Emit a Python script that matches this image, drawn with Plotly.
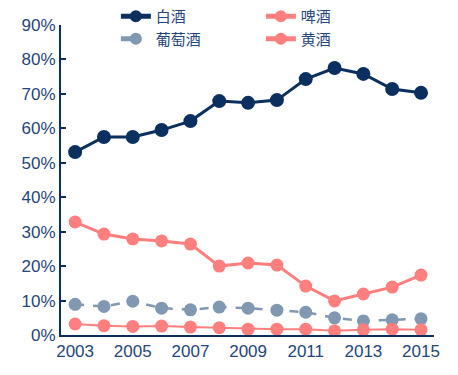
import plotly.graph_objects as go

years = list(range(2003, 2016))
baijiu = [53.1, 57.5, 57.5, 59.5, 62.1, 67.9, 67.4, 68.2, 74.3, 77.5, 75.8, 71.4, 70.3]
beer = [32.8, 29.3, 27.9, 27.3, 26.4, 20.0, 20.9, 20.3, 14.2, 9.9, 11.9, 13.9, 17.4]
wine = [8.9, 8.3, 9.8, 7.8, 7.3, 8.1, 7.8, 7.2, 6.6, 5.0, 4.1, 4.4, 4.7]
huangjiu = [3.2, 2.7, 2.5, 2.6, 2.3, 2.1, 1.7, 1.7, 1.7, 1.2, 1.5, 1.7, 1.5]

navy = "#0B2F5E"
salmon = "#FF7F7F"
grey = "#8098B2"
txt = "#24467A"

def pct(v):
    return [x / 100 for x in v]

fig = go.Figure()
fig.add_trace(go.Scatter(x=years, y=pct(baijiu), name="白酒", mode="lines+markers",
                         line=dict(color=navy, width=3), marker=dict(size=14, color=navy)))
fig.add_trace(go.Scatter(x=years, y=pct(beer), name="啤酒", mode="lines+markers",
                         line=dict(color=salmon, width=3), marker=dict(size=13, color=salmon)))
fig.add_trace(go.Scatter(x=years, y=pct(wine), name="葡萄酒", mode="lines+markers",
                         line=dict(color=grey, width=2.5, dash="dash"), marker=dict(size=13, color=grey)))
fig.add_trace(go.Scatter(x=years, y=pct(huangjiu), name="黄酒", mode="lines+markers",
                         line=dict(color=salmon, width=2), marker=dict(size=13, color=salmon)))

fig.update_layout(
    width=458, height=375,
    margin=dict(l=61, r=24, t=25, b=40, autoexpand=False),
    paper_bgcolor="white", plot_bgcolor="white",
    font=dict(family="Liberation Sans, Arial, Noto Sans CJK SC", size=17, color=txt),
    showlegend=True,
    legend=dict(orientation="h", xref="container", yref="container",
                x=0.253, y=1.0, xanchor="left", yanchor="top",
                entrywidth=100, tracegroupgap=0, bgcolor="rgba(0,0,0,0)",
                itemsizing="constant",
                font=dict(family="Noto Sans CJK SC", size=15, color=txt)),
)
fig.update_xaxes(range=[2002.51, 2015.45], tickmode="array", tickvals=[2003, 2005, 2007, 2009, 2011, 2013, 2015],
                 showgrid=False, zeroline=False, showline=True, linecolor=navy, linewidth=2,
                 ticks="", tickfont=dict(size=17, color=txt))
fig.update_yaxes(range=[0, 0.9], dtick=0.1, tickformat=".0%", showgrid=False, zeroline=False,
                 showline=True, linecolor=navy, linewidth=2, ticks="inside", ticklen=5,
                 tickcolor=navy, tickwidth=2, tickfont=dict(size=17, color=txt))

fig.write_html("out.html", config={"displayModeBar": False},
               post_script="document.body.style.margin='0';document.body.style.overflow='hidden';")
